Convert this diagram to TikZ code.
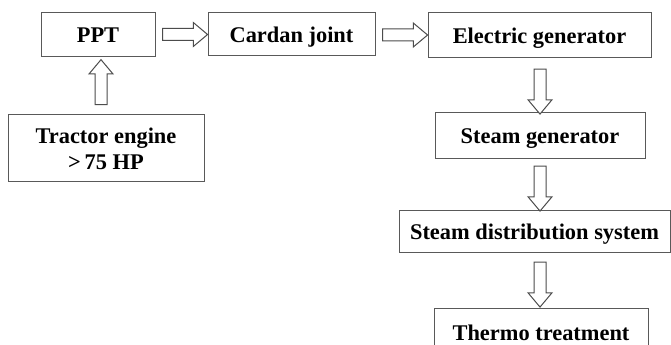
\documentclass[tikz,border=0pt]{standalone}
\usepackage{fontspec}
\setmainfont{Liberation Serif}
\usetikzlibrary{shapes.arrows,calc}
\def\px{0.75pt}
\begin{document}
\begin{tikzpicture}[x=0.75pt,y=-0.75pt,
  box/.style={draw=black!65, line width=1*\px, inner sep=0pt, align=center,
    font=\fontsize{16.8}{18.8}\selectfont\bfseries, text=black},
  onebox/.style={box, text height=12pt, text depth=0pt},
  fatarrow/.style={single arrow, draw=black!70, line width=1*\px, fill=white,
    inner sep=0pt, minimum width=22*\px, single arrow head extend=6*\px,
    single arrow tip angle=80, minimum height=45*\px}]
\clip (0,0) rectangle (671,345);
\fill[white] (0,0) rectangle (671,345);
% boxes
\node[onebox, minimum width=114*\px, minimum height=44*\px] (ppt) at (98,34.5) {PPT};
\node[onebox, minimum width=167*\px, minimum height=43*\px] (cardan) at (291.5,34.5) {Cardan joint};
\node[onebox, minimum width=223*\px, minimum height=45*\px] (elec) at (539.5,35.5) {Electric generator};
\node[onebox, minimum width=210*\px, minimum height=46*\px] (sgen) at (540,136) {Steam generator};
\node[onebox, minimum width=271*\px, minimum height=42*\px] (sdist) at (534.5,232) {Steam distribution system};
\node[onebox, minimum width=214*\px, minimum height=46*\px] (thermo) at (541,332) {Thermo treatment};
\node[box, minimum width=196*\px, minimum height=67*\px] (tractor) at (106,148.5) {Tractor engine\\[0.9pt]{>}\,75 HP};
% arrows
\node[fatarrow, inner ysep=5.5*\px] (a1) at ($(ppt.east)!0.5!(cardan.west)$) {};
\node[fatarrow, inner ysep=5.5*\px] (a2) at ($(cardan.east)!0.5!(elec.west)$) {};
\node[fatarrow, inner ysep=5.5*\px, rotate=90] (a3) at ($(tractor.north)!0.5!(ppt.south)+(-1,0)$) {};
\node[fatarrow, inner ysep=5.5*\px, rotate=-90] (a4) at (540,88) {};
\node[fatarrow, inner ysep=5.5*\px, rotate=-90] (a5) at (540,185) {};
\node[fatarrow, inner ysep=5.5*\px, rotate=-90] (a6) at (540,281) {};
\end{tikzpicture}
\end{document}
